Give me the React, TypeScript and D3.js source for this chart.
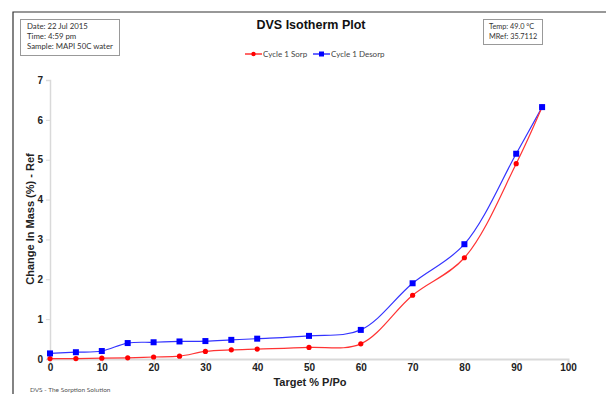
import React, { useRef, useEffect } from 'react';
import * as d3 from 'd3';

const targets = [0, 5, 10, 15, 20, 25, 30, 35, 40, 50, 60, 70, 80, 90, 95];
const sorpValues = [0.01, 0.01, 0.02, 0.03, 0.05, 0.07, 0.19, 0.23, 0.25, 0.29, 0.38, 1.6, 2.54, 4.9, 6.32];
const desorpValues = [0.14, 0.17, 0.2, 0.4, 0.42, 0.44, 0.45, 0.48, 0.51, 0.58, 0.73, 1.9, 2.88, 5.15, 6.32];
const xTicks = [0, 10, 20, 30, 40, 50, 60, 70, 80, 90, 100];
const yTicks = [0, 1, 2, 3, 4, 5, 6, 7];
const infoLines = ['Date:  22 Jul 2015', 'Time:  4:59 pm', 'Sample:  MAPI 50C water'];
const tempLines = ['Temp: 49.0 °C', 'MRef: 35.7112'];

const App: React.FC = () => {
  const width = 606;
  const height = 394;
  const svgRef = useRef<SVGSVGElement>(null);

  useEffect(() => {
    if (!svgRef.current) return;
    const svg = d3.select(svgRef.current);
    svg.selectAll('*').remove();

    const x = d3.scaleLinear().domain([0, 100]).range([50, 568]);
    const y = d3.scaleLinear().domain([0, 7]).range([359, 80]);
    const axisColor = '#d9d9d9';
    const font = 'Liberation Sans, Arial, sans-serif';
    const smallFont = 'Lato, Open Sans, sans-serif';

    svg.append('rect').attr('width', width).attr('height', height).attr('fill', '#fff');

    // outer frame
    svg.append('path')
      .attr('d', `M13,${height} L13,12 L${width},12`)
      .attr('fill', 'none')
      .attr('stroke', '#333')
      .attr('stroke-width', 1.2);

    // info boxes
    svg.append('rect').attr('x', 20.5).attr('y', 19.5).attr('width', 99).attr('height', 36)
      .attr('fill', '#fff').attr('stroke', '#999');
    svg.append('g').selectAll('text').data(infoLines).enter().append('text')
      .attr('x', 27).attr('y', (_, i) => 29 + i * 10)
      .attr('font-family', smallFont).attr('font-size', 7.8).attr('fill', '#333')
      .text(d => d);

    svg.append('rect').attr('x', 483.5).attr('y', 19.5).attr('width', 59).attr('height', 25)
      .attr('fill', '#fff').attr('stroke', '#999');
    svg.append('g').selectAll('text').data(tempLines).enter().append('text')
      .attr('x', 489).attr('y', (_, i) => 29 + i * 10)
      .attr('font-family', smallFont).attr('font-size', 7.3).attr('fill', '#333')
      .text(d => d);

    // title
    svg.append('text').attr('x', 311).attr('y', 29).attr('text-anchor', 'middle')
      .attr('font-family', font).attr('font-size', 12.5).attr('font-weight', 'bold').attr('fill', '#111')
      .text('DVS Isotherm Plot');

    // axes
    const xAxis = d3.axisBottom(x).tickValues(xTicks).tickSize(4).tickFormat(d3.format('d'));
    const gx = svg.append('g').attr('transform', `translate(0,${y(0)})`).call(xAxis);
    gx.select('.domain').attr('stroke', axisColor).attr('stroke-width', 2);
    gx.selectAll('.tick line').attr('stroke', axisColor);
    gx.selectAll('.tick text').attr('font-family', font).attr('font-size', 10)
      .attr('font-weight', 'bold').attr('fill', '#222').attr('dy', '0.5em');

    const yAxis = d3.axisLeft(y).tickValues(yTicks).tickSize(4).tickFormat(d3.format('d'));
    const gy = svg.append('g').attr('transform', `translate(${x(0)},0)`).call(yAxis);
    gy.select('.domain').attr('stroke', axisColor).attr('stroke-width', 1.5);
    gy.selectAll('.tick line').attr('stroke', axisColor);
    gy.selectAll('.tick text').attr('font-family', font).attr('font-size', 10)
      .attr('font-weight', 'bold').attr('fill', '#222').attr('x', -7);

    svg.append('text').attr('x', 310).attr('y', 386).attr('text-anchor', 'middle')
      .attr('font-family', font).attr('font-size', 11).attr('font-weight', 'bold').attr('fill', '#222')
      .text('Target %  P/Po');

    svg.append('text').attr('transform', `translate(34,${219}) rotate(-90)`).attr('text-anchor', 'middle')
      .attr('font-family', font).attr('font-size', 11).attr('font-weight', 'bold').attr('fill', '#222')
      .text('Change In Mass (%)  - Ref');

    svg.append('text').attr('x', 30).attr('y', 392)
      .attr('font-family', smallFont).attr('font-size', 6.5).attr('fill', '#555')
      .text('DVS - The Sorption Solution');

    // series
    const line = d3.line<number>()
      .x((_, i) => x(targets[i]))
      .y(d => y(d))
      .curve(d3.curveCatmullRom.alpha(0.5));

    svg.append('path').datum(desorpValues).attr('d', line)
      .attr('fill', 'none').attr('stroke', '#3333ff').attr('stroke-width', 1.2);
    svg.append('path').datum(sorpValues).attr('d', line)
      .attr('fill', 'none').attr('stroke', '#ff3333').attr('stroke-width', 1.2);

    svg.append('g').selectAll('circle').data(sorpValues).enter().append('circle')
      .attr('cx', (_, i) => x(targets[i])).attr('cy', d => y(d))
      .attr('r', 2.6).attr('fill', '#ff0000');
    svg.append('g').selectAll('rect').data(desorpValues).enter().append('rect')
      .attr('x', (_, i) => x(targets[i]) - 3).attr('y', d => y(d) - 3)
      .attr('width', 6).attr('height', 6).attr('fill', '#0000ff');

    // legend
    const legend = [
      { label: 'Cycle 1 Sorp', color: '#ff0000', x0: 245, square: false },
      { label: 'Cycle 1 Desorp', color: '#0000ff', x0: 313, square: true },
    ];
    legend.forEach(l => {
      const g = svg.append('g');
      g.append('line').attr('x1', l.x0).attr('x2', l.x0 + 17).attr('y1', 54).attr('y2', 54)
        .attr('stroke', l.color).attr('stroke-width', 1.2);
      if (l.square) {
        g.append('rect').attr('x', l.x0 + 6).attr('y', 51.5).attr('width', 5).attr('height', 5).attr('fill', l.color);
      } else {
        g.append('circle').attr('cx', l.x0 + 8.5).attr('cy', 54).attr('r', 2.2).attr('fill', l.color);
      }
      g.append('text').attr('x', l.x0 + 18).attr('y', 57)
        .attr('font-family', smallFont).attr('font-size', 8).attr('fill', '#444').text(l.label);
    });
  }, []);

  return (
    <svg ref={svgRef} width={width} height={height}
      style={{ position: 'absolute', left: 0, top: 0, display: 'block' }} />
  );
};

export default App;
